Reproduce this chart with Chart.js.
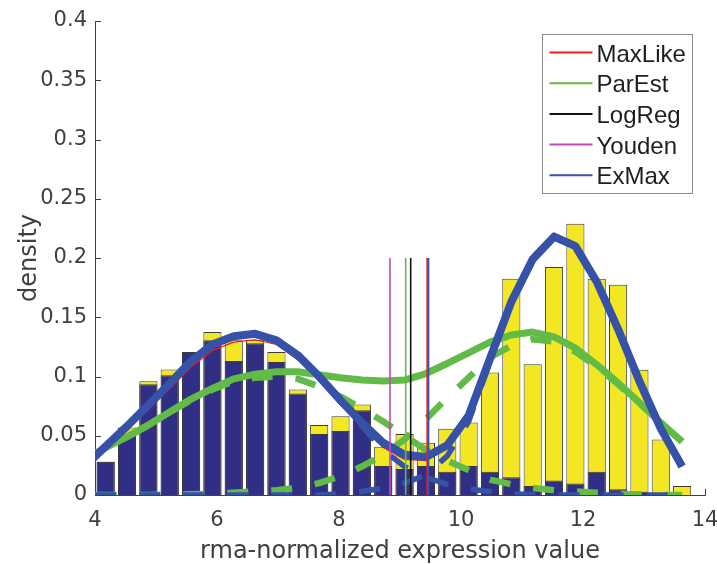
<!DOCTYPE html>
<html>
<head>
<meta charset="utf-8">
<script src="https://cdn.jsdelivr.net/npm/chart.js@4.4.1/dist/chart.umd.min.js"></script>
<style>
  html, body { margin: 0; padding: 0; background: #ffffff; }
  #wrap { width: 717px; height: 564px; position: relative; }
</style>
</head>
<body>
<div id="wrap"><canvas id="chart" width="717" height="564"></canvas></div>
<script>
// Histogram bin centres (rma-normalized expression value)
const binCenters = [4.175, 4.525, 4.875, 5.225, 5.575, 5.925, 6.275, 6.625, 6.975, 7.325,
  7.675, 8.025, 8.375, 8.725, 9.075, 9.425, 9.775, 10.125, 10.475, 10.825,
  11.175, 11.525, 11.875, 12.225, 12.575, 12.925, 13.275, 13.625];

// Density of all samples (yellow) and of the low-expression class (navy)
const allDensity = [0.028, 0.057, 0.096, 0.106, 0.120, 0.1375, 0.1305, 0.131, 0.1207, 0.089,
  0.059, 0.0665, 0.0763, 0.0407, 0.0514, 0.044, 0.056, 0.0612, 0.1033, 0.1825,
  0.1103, 0.1923, 0.2288, 0.1825, 0.1774, 0.1058, 0.0469, 0.0076];
const lowDensity = [0.028, 0.051, 0.0935, 0.101, 0.1207, 0.1305, 0.113, 0.128, 0.1123, 0.0856,
  0.0514, 0.054, 0.0716, 0.0244, 0.022, 0.0244, 0.0196, 0.0244, 0.0196, 0.0149,
  0.0076, 0.0122, 0.0098, 0.0196, 0.0048, 0.0028, 0.001, 0];

// Grid on which the fitted densities are evaluated
const curveX = [3.825, 4.175, 4.525, 4.875, 5.225, 5.575, 5.925, 6.275, 6.625, 6.975,
  7.325, 7.675, 8.025, 8.375, 8.725, 9.075, 9.425, 9.775, 10.125, 10.475,
  10.825, 11.175, 11.525, 11.875, 12.225, 12.575, 12.925, 13.275, 13.625];

// Maximum-likelihood mixture fit
const maxLikeFit = [0.022, 0.038, 0.055, 0.072, 0.090, 0.108, 0.122, 0.129, 0.131, 0.127,
  0.114, 0.096, 0.076, 0.057, 0.040, 0.030, 0.029, 0.041, 0.070, 0.120,
  0.168, 0.203, 0.221, 0.211, 0.180, 0.140, 0.096, 0.056, 0.024];

// Parametric estimate: mixture and its two components
const parEstFit = [0.030, 0.040, 0.049, 0.059, 0.070, 0.081, 0.090, 0.098, 0.102, 0.104,
  0.104, 0.1015, 0.099, 0.097, 0.0963, 0.097, 0.1025, 0.111, 0.120, 0.129,
  0.135, 0.1375, 0.1335, 0.124, 0.110, 0.0945, 0.078, 0.061, 0.045];
const parEstLow = [0.030, 0.040, 0.049, 0.059, 0.070, 0.080, 0.089, 0.096, 0.099, 0.100,
  0.098, 0.0915, 0.083, 0.073, 0.062, 0.050, 0.038, 0.029, 0.021, 0.013,
  0.009, 0.006, 0.004, 0.003, 0.002, 0.001, 0.0005, 0, 0];
const parEstHigh = [0, 0, 0, 0, 0.0003, 0.0006, 0.001, 0.002, 0.003, 0.004,
  0.006, 0.010, 0.016, 0.024, 0.034, 0.047, 0.064, 0.082, 0.099, 0.116,
  0.126, 0.1315, 0.1295, 0.121, 0.108, 0.0935, 0.0775, 0.061, 0.045];

// Expectation-maximisation: mixture and its two components
const exMaxFit = [0.024, 0.041, 0.058, 0.076, 0.094, 0.113, 0.127, 0.134, 0.136, 0.1305,
  0.118, 0.100, 0.080, 0.061, 0.044, 0.034, 0.032, 0.042, 0.067, 0.115,
  0.163, 0.199, 0.218, 0.210, 0.180, 0.140, 0.096, 0.056, 0.024];
const exMaxLow = [0.024, 0.041, 0.058, 0.076, 0.094, 0.113, 0.127, 0.134, 0.136, 0.1305,
  0.118, 0.100, 0.079, 0.058, 0.038, 0.024, 0.015, 0.009, 0.005, 0.003,
  0.001, 0.0005, 0, 0, 0, 0, 0, 0, 0];
const exMaxHigh = [0, 0, 0, 0, 0, 0, 0, 0, 0, 0,
  0, 0, 0.001, 0.003, 0.006, 0.010, 0.017, 0.033, 0.062, 0.112,
  0.162, 0.1985, 0.218, 0.210, 0.180, 0.140, 0.096, 0.056, 0.024];

// Classification thresholds of each method
const methods = ['MaxLike', 'ParEst', 'LogReg', 'Youden', 'ExMax'];
const thresholds = [9.445, 9.093, 9.175, 8.836, 9.468];
const thresholdTop = 0.2;

// Axis ticks
const xTickValues = [4, 6, 8, 10, 12, 14];
const xTickLabels = ['4', '6', '8', '10', '12', '14'];
const yTickValues = [0, 0.05, 0.1, 0.15, 0.2, 0.25, 0.3, 0.35, 0.4];
const yTickLabels = ['0', '0.05', '0.1', '0.15', '0.2', '0.25', '0.3', '0.35', '0.4'];

const methodColors = ['#f01c1c', '#62bb46', '#111111', '#c24db6', '#3552a8'];
const axisColor = '#404040';
const tickFont = { family: '"DejaVu Sans", sans-serif', size: 21 };
const titleFont = { family: '"DejaVu Sans", sans-serif', size: 24, lineHeight: 1 };

const pts = (xs, ys) => xs.map((x, i) => ({ x, y: ys[i] }));

function curve(data, color, width, order, dashed) {
  return {
    type: 'line', data, borderColor: color, borderWidth: width, order,
    pointRadius: 0, tension: 0, fill: false,
    borderCapStyle: 'butt', borderJoinStyle: 'round',
    borderDash: dashed ? [21, 23] : [], borderDashOffset: dashed ? 33 : 0
  };
}

const datasets = [];
// threshold markers on top
thresholds.forEach((t, i) => {
  datasets.push(curve([{ x: t, y: 0 }, { x: t, y: thresholdTop }], methodColors[i], 1.6, i));
});
// ExMax
datasets.push(curve(pts(curveX, exMaxLow), '#3552a8', 5.5, 6, true));
datasets.push(curve(pts(curveX, exMaxHigh), '#3552a8', 5.5, 7, true));
datasets.push(curve(pts(curveX, exMaxFit), '#3552a8', 8, 8));
// ParEst
datasets.push(curve(pts(curveX, parEstLow), '#62bb46', 6.5, 9, true));
datasets.push(curve(pts(curveX, parEstHigh), '#62bb46', 6.5, 10, true));
datasets.push(curve(pts(curveX, parEstFit), '#62bb46', 7, 11));
// MaxLike
datasets.push(curve(pts(curveX, maxLikeFit), '#f01c1c', 1.2, 12));
// Histograms
const barStyle = {
  type: 'bar', grouped: false, categoryPercentage: 1, barPercentage: 0.85,
  borderWidth: 1, borderColor: '#3c3c3c', borderSkipped: 'start'
};
datasets.push(Object.assign({}, barStyle, { data: pts(binCenters, lowDensity), backgroundColor: '#312e86', order: 20 }));
datasets.push(Object.assign({}, barStyle, { data: pts(binCenters, allDensity), backgroundColor: '#f2e722', order: 21 }));

// Inward tick marks, drawn under the data
const inwardTicks = {
  id: 'inwardTicks',
  beforeDatasetsDraw(chart) {
    const { ctx, chartArea: a, scales: { x, y } } = chart;
    ctx.save();
    ctx.strokeStyle = axisColor;
    ctx.lineWidth = 1;
    ctx.beginPath();
    xTickValues.forEach(v => {
      const p = Math.round(x.getPixelForValue(v)) + 0.5;
      ctx.moveTo(p, a.bottom); ctx.lineTo(p, a.bottom - 6);
    });
    yTickValues.forEach(v => {
      const p = Math.round(y.getPixelForValue(v)) + 0.5;
      ctx.moveTo(a.left, p); ctx.lineTo(a.left + 6, p);
    });
    ctx.stroke();
    ctx.restore();
  }
};

// Legend box in the upper right of the plot area
const legendBox = {
  id: 'legendBox',
  afterDraw(chart) {
    const { ctx, chartArea: a } = chart;
    const w = 150, h = 159;
    const left = Math.round(a.right - 13 - w) + 0.5;
    const top = Math.round(a.top + 13) + 0.5;
    ctx.save();
    ctx.fillStyle = '#ffffff';
    ctx.fillRect(left, top, w, h);
    ctx.strokeStyle = '#8c8c8c';
    ctx.lineWidth = 1;
    ctx.strokeRect(left, top, w, h);
    ctx.font = '24px "Liberation Sans", Arial, sans-serif';
    ctx.textBaseline = 'alphabetic';
    ctx.textAlign = 'left';
    methods.forEach((m, i) => {
      const yy = top + 18 + i * 30.7;
      ctx.strokeStyle = methodColors[i];
      ctx.lineWidth = 2;
      ctx.beginPath();
      ctx.moveTo(left + 7, yy); ctx.lineTo(left + 50, yy);
      ctx.stroke();
      ctx.fillStyle = '#1e1e1e';
      ctx.fillText(m, left + 54, yy + 9);
    });
    ctx.restore();
  }
};

new Chart(document.getElementById('chart'), {
  type: 'line',
  data: { datasets },
  options: {
    responsive: false,
    animation: false,
    devicePixelRatio: 1,
    layout: { padding: { left: 0, right: 12, top: 21, bottom: 0 }, autoPadding: false },
    plugins: { legend: { display: false }, tooltip: { enabled: false } },
    scales: {
      x: {
        type: 'linear', min: 4, max: 14, offset: false,
        afterFit: s => { s.height = 69; s.paddingLeft = 0; s.paddingRight = 0; },
        afterBuildTicks: s => { s.ticks = xTickValues.map(v => ({ value: v })); },
        grid: { display: false, drawTicks: false, tickLength: 0 },
        border: { display: true, color: axisColor, width: 1 },
        ticks: { font: tickFont, color: axisColor, padding: 13, maxRotation: 0,
          callback: (v, i) => xTickLabels[i] },
        title: { display: true, text: 'rma-normalized expression value', font: titleFont,
          color: axisColor, padding: { top: 0, bottom: 0 } }
      },
      y: {
        type: 'linear', min: 0, max: 0.4,
        afterFit: s => { s.width = 95; s.paddingTop = 0; s.paddingBottom = 0; },
        afterBuildTicks: s => { s.ticks = yTickValues.map(v => ({ value: v })); },
        grid: { display: false, drawTicks: false, tickLength: 0 },
        border: { display: true, color: axisColor, width: 1 },
        ticks: { font: tickFont, color: axisColor, padding: 8,
          callback: (v, i) => yTickLabels[i] },
        title: { display: true, text: 'density', font: titleFont,
          color: axisColor, padding: { top: 18, bottom: 0 } }
      }
    }
  },
  plugins: [inwardTicks, legendBox]
});
</script>
</body>
</html>
